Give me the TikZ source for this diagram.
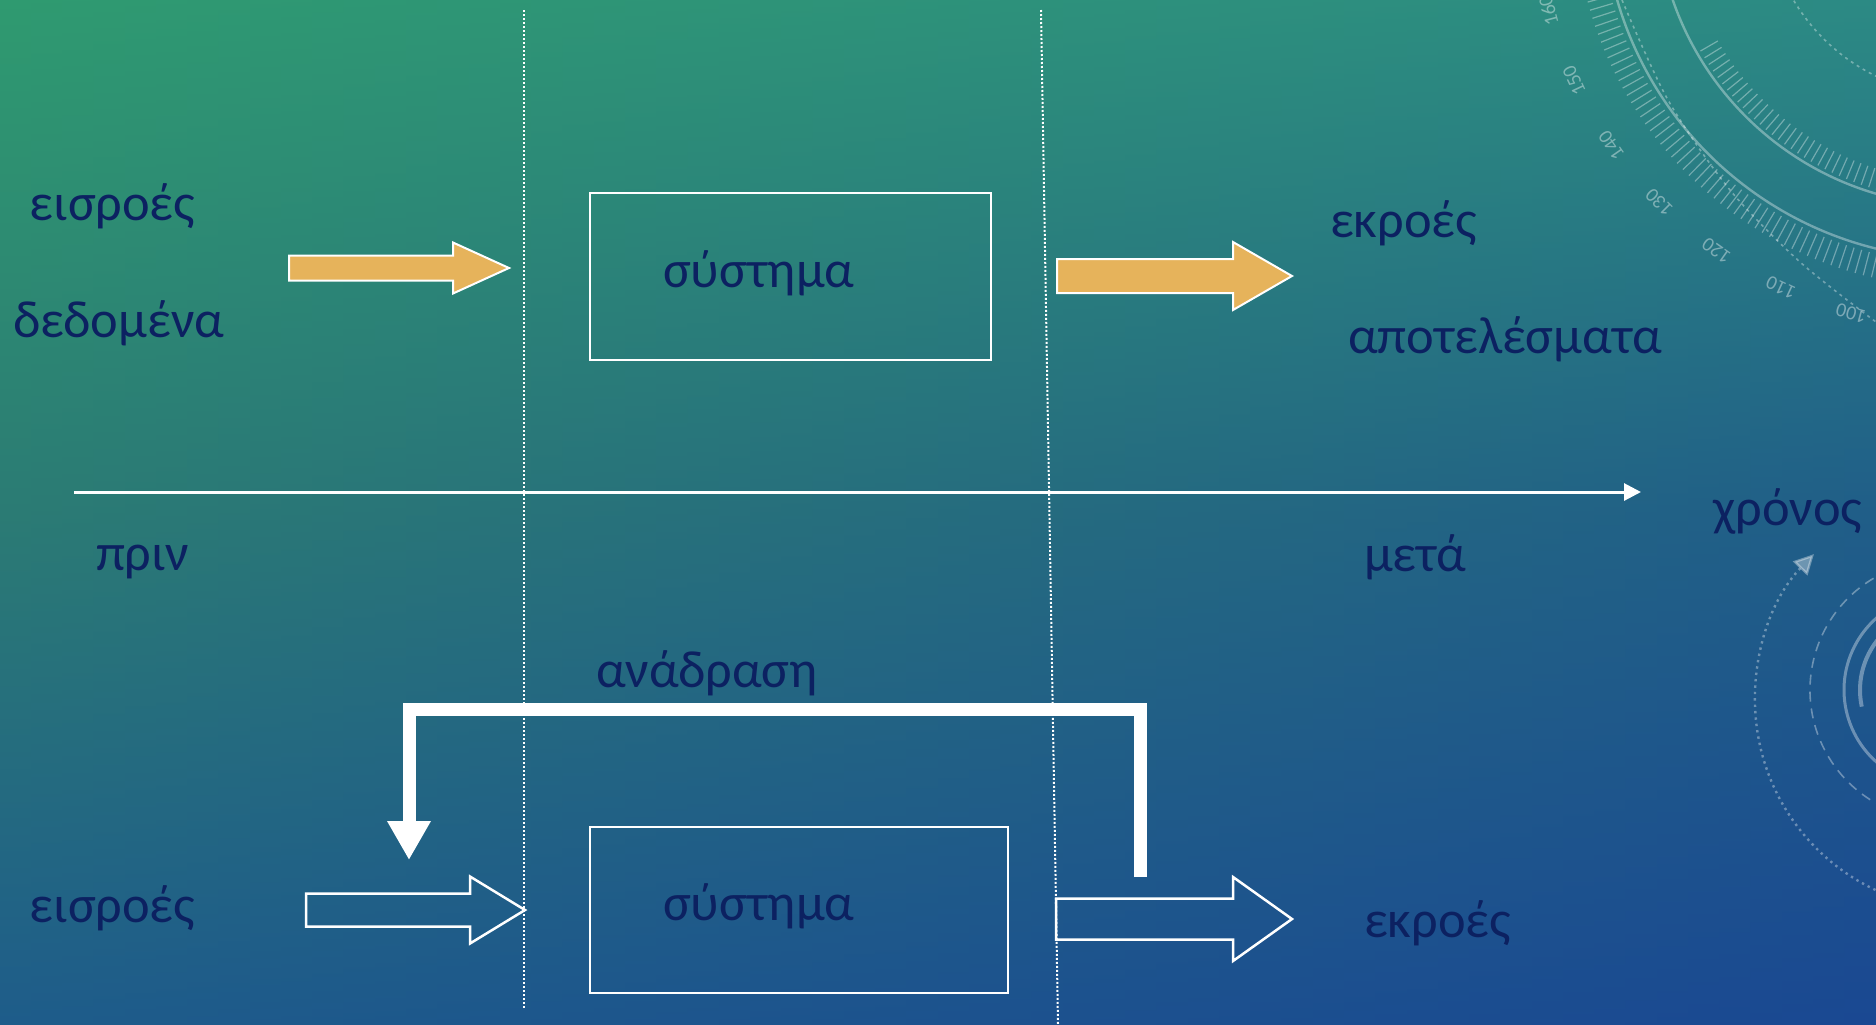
\documentclass[tikz,border=0pt]{standalone}
\usepackage{fontspec}
\setmainfont{Carlito}
\usetikzlibrary{arrows.meta,fit}

\definecolor{txt}{HTML}{0C2161}
\definecolor{orng}{HTML}{E6B35B}
\definecolor{tl}{HTML}{2F9A70}
\definecolor{tr}{HTML}{2C8A84}
\definecolor{ml}{HTML}{2B7B74}
\definecolor{mr}{HTML}{205E88}
\definecolor{bl}{HTML}{1E5C8A}
\definecolor{br}{HTML}{1A4892}

\newcommand\blkarrow[7]{%
  \path[#1] (#2,#5-#6) -- (#3,#5-#6) -- (#3,#5-#7) -- (#4,#5) -- (#3,#5+#7) -- (#3,#5+#6) -- (#2,#5+#6) -- cycle;}

\begin{document}
\begin{tikzpicture}[x=0.5pt,y=-0.5pt,
  lbl/.style={text=txt, font=\fontsize{26.2}{31}\selectfont, inner sep=0pt, outer sep=0pt, anchor=base west},
  sysbox/.style={draw=white, line width=1.25pt, inner sep=0pt, outer sep=0pt},
  vdots/.style={white, line width=1pt, dash pattern=on 1pt off 1pt},
  deco/.style={white, opacity=0.35, line width=0.8pt},
  decotxt/.style={text=white, opacity=0.4, font=\fontsize{10}{11}\selectfont, inner sep=0pt}
]
\useasboundingbox (0,0) rectangle (1876,1024);

% background gradient
\foreach \i in {0,...,59}{
  \pgfmathtruncatemacro\p{round(100*\i/59)}
  \colorlet{ctop}{tr!\p!tl}
  \colorlet{cmid}{mr!\p!ml}
  \colorlet{cbot}{br!\p!bl}
  \shade[top color=ctop, bottom color=cbot, middle color=cmid] ({\i*31.2667},0) rectangle ({\i*31.2667+32},1024);
}

% background decorations
\begin{scope}
\clip (0,0) rectangle (1876,1024);
\begin{scope}[shift={(1962,-100)}]
  \draw[deco, line width=1.2pt] (95:359) arc[start angle=95, end angle=175, radius=359];
  \draw[deco, line width=1.2pt] (95:306) arc[start angle=95, end angle=175, radius=306];
  \draw[deco, dash pattern=on 1.5pt off 2pt] (95:196) arc[start angle=95, end angle=165, radius=196];
  \foreach \a in {96,97.25,...,174}{
    \draw[deco, line width=0.6pt] (\a:364) -- (\a:388);
  }
  \foreach \a in {96,97.5,...,150}{
    \draw[deco, line width=0.6pt] (\a:282) -- (\a:302);
  }
  \foreach \a/\n [count=\k] in {165/160,155/150,145/140,135/130,125/120,115/110,105/100}{
    \node[decotxt, rotate=270-\a] (num\k) at (\a:428) {\n};
  }
\end{scope}
\draw[deco, dash pattern=on 1.5pt off 2pt] plot[smooth] coordinates {(1622,0) (1668,100) (1730,190) (1800,262) (1876,322)};
\begin{scope}[shift={(1940,690)}]
  \draw[deco, dash pattern=on 5pt off 3.5pt] (100:130) arc[start angle=100, end angle=260, radius=130];
  \draw[deco, line width=1.5pt] (120:96) arc[start angle=120, end angle=240, radius=96];
  \draw[deco, line width=2pt] (168:80) arc[start angle=168, end angle=225, radius=80];
\end{scope}
\begin{scope}[shift={(1965,700)}]
  \draw[deco, line width=1.2pt, dash pattern=on 1.2pt off 2pt, -{Triangle[length=10pt,width=10pt]}] (110:210) arc[start angle=110, end angle=224, radius=210];
\end{scope}
\end{scope}

% dotted separators
\coordinate (d1t) at (524,10);
\coordinate (d1b) at (524,1010);
\coordinate (d2t) at (1041,10);
\coordinate (d2b) at (1058,1024);
\draw[vdots] (d1t) -- (d1b);
\draw[vdots] (d2t) -- (d2b);

% time axis
\coordinate (axL) at (74,492);
\coordinate (axR) at (1641,492);
\draw[white, line width=1.5pt, -{Triangle[length=8.5pt,width=8.5pt]}] (axL) -- (axR);

% top row
\node[lbl] (in1) at (30,220) {εισροές};
\node[lbl] (dat) at (13,337) {δεδομένα};
\blkarrow{fill=orng, draw=white, line width=1pt, line join=miter}{289}{453}{509}{268}{12.5}{25.5}
\coordinate (s1a) at (590,193);
\coordinate (s1b) at (991,360);
\node[sysbox, fit=(s1a)(s1b)] (sys1) {};
\node[lbl] (sysT1) at (663,287) {σύστημα};
\blkarrow{fill=orng, draw=white, line width=1pt, line join=miter}{1057}{1233}{1292}{276}{17}{34}
\node[lbl] (out1) at (1330,237) {εκροές};
\node[lbl] (res) at (1348,353) {αποτελέσματα};

% axis labels
\node[lbl] (time) at (1713,525) {χρόνος};
\node[lbl] (before) at (96,570) {πριν};
\node[lbl] (after) at (1364,571) {μετά};

% bottom row
\node[lbl] (fb) at (596,687) {ανάδραση};
\coordinate (fbS) at (1140.5,877);
\coordinate (fbTop) at (775,709.5);
\coordinate (fbT) at (409,860);
\draw[white, line width=6.5pt, line join=miter, -{Triangle[length=19.5pt,width=20.5pt]}] (fbS) |- (fbTop) -| (fbT);

\node[lbl] (in2) at (30,922) {εισροές};
\blkarrow{draw=white, line width=1.25pt, line join=miter}{306}{470}{525}{910}{16.5}{33.5}
\coordinate (s2a) at (590,827);
\coordinate (s2b) at (1008,993);
\node[sysbox, fit=(s2a)(s2b)] (sys2) {};
\node[lbl] (sysT2) at (663,920) {σύστημα};
\blkarrow{draw=white, line width=1.25pt, line join=miter}{1056}{1233}{1292}{919}{20.5}{42}
\node[lbl] (out2) at (1364,937) {εκροές};
\end{tikzpicture}
\end{document}
